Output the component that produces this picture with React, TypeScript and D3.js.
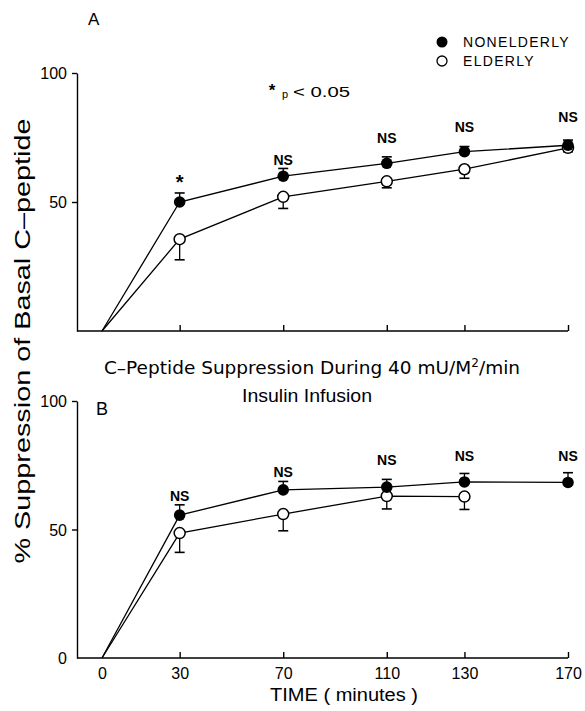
import React, { useEffect, useRef } from "react";
import * as d3 from "d3";

// sample times and where each one sits along the (unevenly drawn) time axis
const times = [0, 30, 70, 110, 130, 170];
const axisSlot = [0, 3, 7, 11, 14, 18];

// panel A: % suppression of basal C-peptide
const aNonElderly = [0, 50, 60, 65, 69.5, 72];
const aNonElderlyErr = [0, 3.5, 3, 2.5, 2, 2];
const aElderly = [0, 35.6, 52, 58, 62.7, 71];
const aElderlyErr = [0, 8, 4.5, 2.5, 3.5, 1.5];
const aMarks = ["", "*", "NS", "NS", "NS", "NS"];
const aMarkLevel = [0, 55, 64.5, 73, 77, 81];

// panel B
const bNonElderly = [0, 55.6, 65.4, 66.5, 68.5, 68.3];
const bNonElderlyErr = [0, 4, 3.3, 3, 3.3, 3.8];
const bElderly = [0, 48.6, 56, 63, 62.8];
const bElderlyErr = [0, 7.5, 6.5, 5, 5];
const bMarks = ["", "NS", "NS", "NS", "NS", "NS"];
const bMarkLevel = [0, 61, 70.5, 75, 76.5, 76.5];

const yTicksA = [50, 100];
const yTicksB = [0, 50, 100];

const FONT = "'Liberation Sans', Arial, sans-serif";
const WIDE = "'DejaVu Sans', sans-serif";

const App = () => {
  const ref = useRef<SVGSVGElement>(null);

  useEffect(() => {
    const svg = d3.select(ref.current);
    svg.selectAll("*").remove();

    const axisX = 77;
    const x = d3.scaleLinear().domain([0, 18]).range([102, 568]);
    const yA = d3.scaleLinear().domain([0, 100]).range([331, 73]);
    const yB = d3.scaleLinear().domain([0, 100]).range([658, 401]);

    const drawPanel = (
      y: d3.ScaleLinear<number, number>,
      yTicks: number[],
      nonElderly: number[],
      nonErr: number[],
      elderly: number[],
      eldErr: number[],
      marks: string[],
      markLevel: number[],
      showXLabels: boolean
    ) => {
      const g = svg.append("g");
      const base = y(0);

      // y axis
      const yAxis = g
        .append("g")
        .attr("transform", `translate(${axisX},0)`)
        .call(
          d3
            .axisLeft(y)
            .tickValues(yTicks)
            .tickSize(5)
            .tickSizeOuter(0)
            .tickPadding(5)
            .tickFormat(d3.format("d"))
        );
      yAxis.select(".domain").attr("stroke-width", 1.4);
      yAxis.selectAll(".tick line").attr("stroke-width", 1.4);
      yAxis
        .selectAll(".tick text")
        .style("font-family", FONT)
        .style("font-size", "16px")
        .attr("dy", "0.36em");
      yAxis.selectAll(".tick").filter((d: any) => d === 0).select("line").remove();

      // x axis baseline
      g.append("line")
        .attr("x1", axisX)
        .attr("x2", x(18))
        .attr("y1", base)
        .attr("y2", base)
        .attr("stroke", "#000")
        .attr("stroke-width", 1.4);

      const xAxis = g
        .append("g")
        .attr("transform", `translate(0,${base})`)
        .call(
          d3
            .axisBottom(x)
            .tickValues(axisSlot)
            .tickSize(-6)
            .tickSizeOuter(0)
            .tickPadding(10)
            .tickFormat((d, i) => (showXLabels ? String(times[i]) : ""))
        );
      xAxis.select(".domain").remove();
      xAxis.selectAll(".tick line").attr("stroke-width", 1.4);
      xAxis.selectAll(".tick").filter((d: any) => d === 0).select("line").remove();
      xAxis
        .selectAll(".tick text")
        .style("font-family", FONT)
        .style("font-size", "16px");

      const line = d3
        .line<number>()
        .x((_, i) => x(axisSlot[i]))
        .y((d) => y(d));

      [nonElderly, elderly].forEach((vals) => {
        g.append("path")
          .attr("d", line(vals))
          .attr("fill", "none")
          .attr("stroke", "#000")
          .attr("stroke-width", 1.3);
      });

      // error bars: nonelderly upward, elderly downward
      const bars = (vals: number[], errs: number[], dir: number) => {
        vals.forEach((v, i) => {
          if (i === 0 || !errs[i]) return;
          const cx = x(axisSlot[i]);
          const end = y(v + dir * errs[i]);
          g.append("line")
            .attr("x1", cx)
            .attr("x2", cx)
            .attr("y1", y(v))
            .attr("y2", end)
            .attr("stroke", "#000")
            .attr("stroke-width", 1.3);
          g.append("line")
            .attr("x1", cx - 5)
            .attr("x2", cx + 5)
            .attr("y1", end)
            .attr("y2", end)
            .attr("stroke", "#000")
            .attr("stroke-width", 1.6);
        });
      };
      bars(nonElderly, nonErr, 1);
      bars(elderly, eldErr, -1);

      g.selectAll(".open")
        .data(elderly.slice(1))
        .join("circle")
        .attr("cx", (_, i) => x(axisSlot[i + 1]))
        .attr("cy", (d) => y(d))
        .attr("r", 5.5)
        .attr("fill", "#fff")
        .attr("stroke", "#000")
        .attr("stroke-width", 1.5);

      g.selectAll(".filled")
        .data(nonElderly.slice(1))
        .join("circle")
        .attr("cx", (_, i) => x(axisSlot[i + 1]))
        .attr("cy", (d) => y(d))
        .attr("r", 5.8)
        .attr("fill", "#000");

      // significance marks above each time point
      marks.forEach((m, i) => {
        if (!m) return;
        g.append("text")
          .attr("x", x(axisSlot[i]))
          .attr("y", y(markLevel[i]))
          .attr("text-anchor", "middle")
          .style("font-family", FONT)
          .style("font-size", m === "*" ? "20px" : "14px")
          .style("font-weight", "bold")
          .text(m);
      });
    };

    drawPanel(yA, yTicksA, aNonElderly, aNonElderlyErr, aElderly, aElderlyErr, aMarks, aMarkLevel, false);
    drawPanel(yB, yTicksB, bNonElderly, bNonElderlyErr, bElderly, bElderlyErr, bMarks, bMarkLevel, true);

    // panel letters
    svg.append("text").attr("x", 88).attr("y", 25).style("font-family", FONT).style("font-size", "17px").text("A");
    svg.append("text").attr("x", 96).attr("y", 415).style("font-family", FONT).style("font-size", "18px").text("B");

    // legend
    const legend = svg.append("g").attr("transform", "translate(442,42)");
    legend.append("circle").attr("r", 5.5).attr("fill", "#000");
    legend
      .append("circle")
      .attr("cy", 19)
      .attr("r", 5)
      .attr("fill", "#fff")
      .attr("stroke", "#000")
      .attr("stroke-width", 1.3);
    [["NONELDERLY", 0], ["ELDERLY", 19]].forEach(([t, dy]) => {
      legend
        .append("text")
        .attr("x", 21)
        .attr("y", (dy as number) + 5)
        .style("font-family", FONT)
        .style("font-size", "14px")
        .style("letter-spacing", "1.3px")
        .text(t as string);
    });

    // p-value note
    svg.append("text").attr("x", 272).attr("y", 96).attr("text-anchor", "middle").style("font-family", FONT).style("font-size", "17px").style("font-weight", "bold").text("*");
    svg.append("text").attr("x", 282).attr("y", 98).style("font-family", FONT).style("font-size", "11px").text("p");
    svg
      .append("text")
      .attr("x", 293)
      .attr("y", 97)
      .attr("textLength", 57)
      .attr("lengthAdjust", "spacingAndGlyphs")
      .style("font-family", FONT)
      .style("font-size", "14px")
      .text("< 0.05");

    // title between panels
    const title = svg.append("text").attr("text-anchor", "middle").style("font-family", WIDE).style("font-size", "18.5px");
    title.append("tspan").attr("x", 312).attr("y", 374).text("C\u2013Peptide Suppression During 40 mU/M");
    title.append("tspan").attr("dy", -7).style("font-size", "12px").text("2");
    title.append("tspan").attr("dy", 7).text("/min");
    svg
      .append("text")
      .attr("x", 307)
      .attr("y", 402)
      .attr("text-anchor", "middle")
      .attr("textLength", 130)
      .attr("lengthAdjust", "spacingAndGlyphs")
      .style("font-family", FONT)
      .style("font-size", "18px")
      .text("Insulin Infusion");

    // axis titles
    svg
      .append("text")
      .attr("transform", "rotate(-90)")
      .attr("x", -341)
      .attr("y", 30)
      .attr("text-anchor", "middle")
      .attr("textLength", 445)
      .attr("lengthAdjust", "spacingAndGlyphs")
      .style("font-family", FONT)
      .style("font-size", "22px")
      .text("% Suppression of Basal C\u2013peptide");

    svg
      .append("text")
      .attr("x", 344)
      .attr("y", 701)
      .attr("text-anchor", "middle")
      .attr("textLength", 148)
      .attr("lengthAdjust", "spacingAndGlyphs")
      .style("font-family", FONT)
      .style("font-size", "18px")
      .text("TIME ( minutes )");
  }, []);

  return (
    <svg
      ref={ref}
      width={585}
      height={711}
      style={{ position: "absolute", left: 0, top: 0, background: "#fff" }}
    />
  );
};

export default App;
